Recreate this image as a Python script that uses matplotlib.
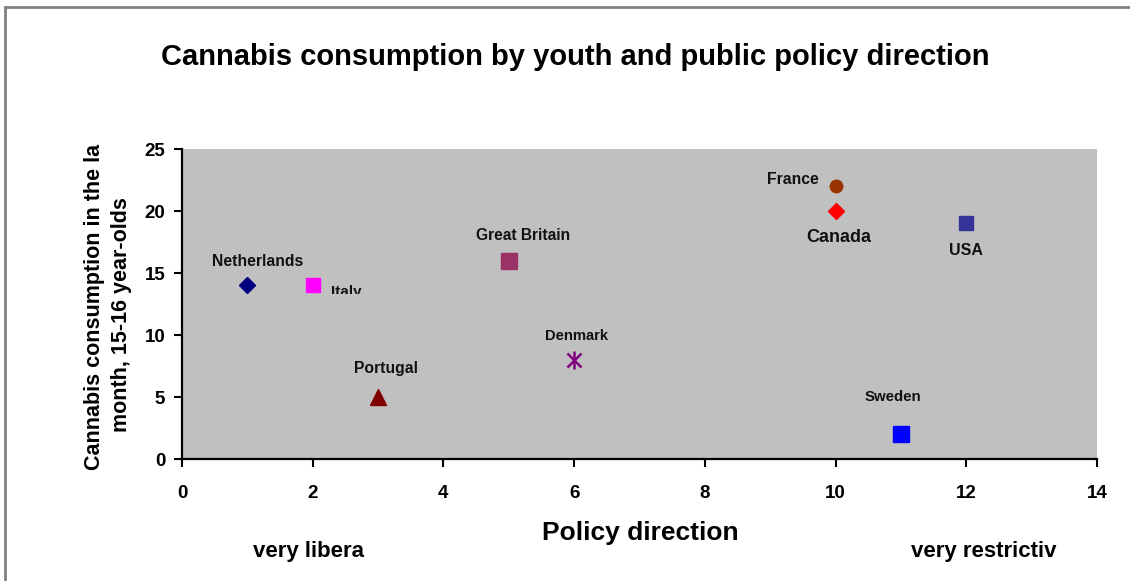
import matplotlib.pyplot as plt
from matplotlib.patches import Rectangle
from matplotlib.transforms import Bbox, TransformedBbox

plt.rcParams['font.family'] = ['Liberation Sans', 'DejaVu Sans']
plt.rcParams['font.weight'] = 'bold'

countries = ['Netherlands', 'Italy', 'Portugal', 'Great Britain', 'Denmark',
             'France', 'Canada', 'USA', 'Sweden']
policy = [1, 2, 3, 5, 6, 10, 10, 12, 11]
consumption = [14, 14, 5, 16, 8, 22, 20, 19, 2]

markers = ['D', 's', '^', 's', 'x', 'o', 'D', 's', 's']
colors = ['#000080', '#FF00FF', '#800000', '#993366', '#800080',
          '#993300', '#FF0000', '#333399', '#0000FF']
msizes = [8, 10, 11, 11, 11, 9, 8, 10, 11]

# label offsets (data units) relative to each point
label_dx = [0.16, 0.28, 0.12, 0.22, 0.03, -0.65, 0.05, 0.0, -0.12]
label_dy = [1.9, -0.5, 2.3, 2.0, 1.9, 0.5, -2.1, -2.2, 3.0]
label_ha = ['center', 'left', 'center', 'center', 'center', 'center', 'center', 'center', 'center']
label_fs = [11.3, 11, 11.3, 11.2, 10.6, 11.3, 13, 11.5, 10.8]

fig = plt.figure(figsize=(11.3, 5.81), dpi=100)
ax = fig.add_axes([182 / 1130, 1 - 459 / 581, (1097 - 182) / 1130, (459 - 149) / 581])
ax.set_facecolor('#C0C0C0')

for i in range(len(countries)):
    if markers[i] == 'x':
        ax.plot(policy[i], consumption[i], marker='x', color=colors[i], ms=msizes[i] * 0.9,
                mew=1.8, ls='none')
        ax.plot(policy[i], consumption[i], marker='|', color=colors[i], ms=msizes[i] * 1.2,
                mew=1.8, ls='none')
    else:
        ax.plot(policy[i], consumption[i], marker=markers[i], color=colors[i], ms=msizes[i],
                mec=colors[i], ls='none')
    t = ax.text(policy[i] + label_dx[i], consumption[i] + label_dy[i], countries[i],
                ha=label_ha[i], va='center', fontsize=label_fs[i], fontweight='bold',
                color='#111111')
    if countries[i] == 'Italy':
        # label cut off at the bottom
        t.set_clip_box(TransformedBbox(Bbox([[0, 13.3], [14, 25]]), ax.transData))
        t.set_clip_on(True)

ax.set_xlim(0, 14)
ax.set_ylim(0, 25)
ax.set_xticks(range(0, 15, 2))
ax.set_yticks(range(0, 26, 5))
ax.spines['top'].set_visible(False)
ax.spines['right'].set_visible(False)
ax.spines['left'].set_linewidth(1.6)
ax.spines['bottom'].set_linewidth(1.6)
ax.tick_params(direction='out', length=6, width=1.5, labelsize=13.5)
ax.tick_params(axis='x', pad=13)
ax.tick_params(axis='y', pad=6)
for lab in ax.get_xticklabels() + ax.get_yticklabels():
    lab.set_fontweight('bold')

fig.text(575 / 1130, 1 - 57 / 581, 'Cannabis consumption by youth and public policy direction',
         ha='center', va='center', fontsize=21, fontweight='bold')
fig.text(640 / 1130, 1 - 533 / 581, 'Policy direction', ha='center', va='center',
         fontsize=19, fontweight='bold')

# y-axis title, two lines (first one runs out of room)
fig.text(95 / 1130, 1 - 470 / 581, 'Cannabis consumption in the la', rotation=90,
         ha='center', va='bottom', fontsize=15.5, fontweight='bold')
fig.text(121 / 1130, 1 - 315 / 581, 'month, 15-16 year-olds', rotation=90,
         ha='center', va='center', fontsize=15.5, fontweight='bold')

fig.text(253 / 1130, 1 - 551 / 581, 'very libera', ha='left', va='center',
         fontsize=16, fontweight='bold')
fig.text(911 / 1130, 1 - 551 / 581, 'very restrictiv', ha='left', va='center',
         fontsize=16, fontweight='bold')

fig.patches.append(Rectangle((5 / 1130, -0.05), 1.1, 1 - 7 / 581 + 0.05, transform=fig.transFigure,
                             fill=False, ec='#808080', lw=2))

fig.savefig('out.png', dpi=100)
